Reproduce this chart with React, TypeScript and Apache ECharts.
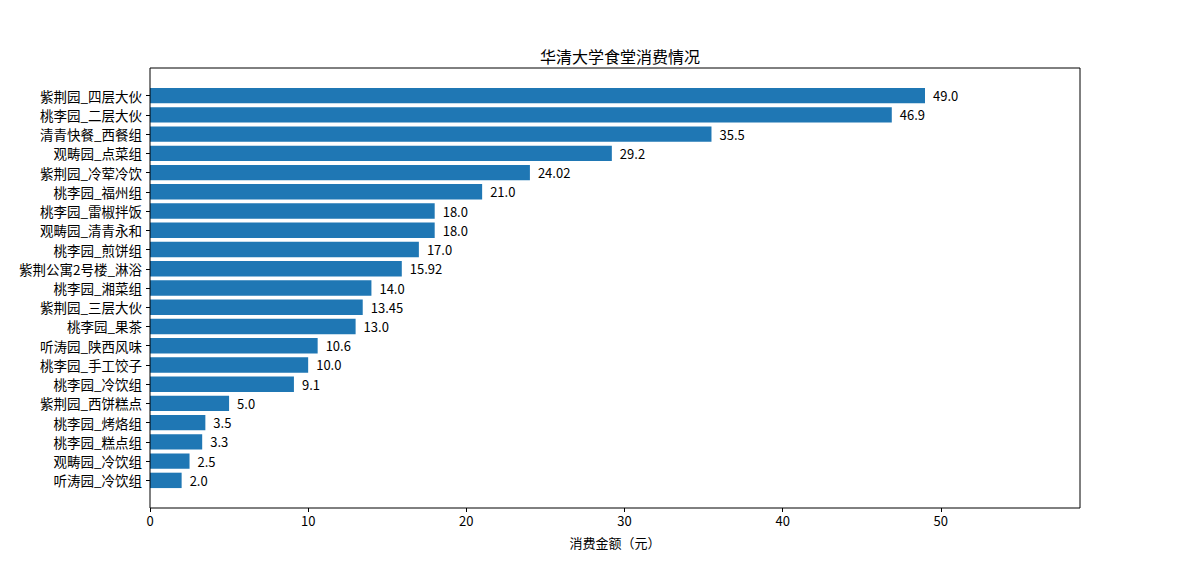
import React, { useEffect, useRef } from "react";
import * as echarts from "echarts";

const categories = [
  "听涛园_冷饮组",
  "观畴园_冷饮组",
  "桃李园_糕点组",
  "桃李园_烤烙组",
  "紫荆园_西饼糕点",
  "桃李园_冷饮组",
  "桃李园_手工饺子",
  "听涛园_陕西风味",
  "桃李园_果茶",
  "紫荆园_三层大伙",
  "桃李园_湘菜组",
  "紫荆公寓2号楼_淋浴",
  "桃李园_煎饼组",
  "观畴园_清青永和",
  "桃李园_雷椒拌饭",
  "桃李园_福州组",
  "紫荆园_冷荤冷饮",
  "观畴园_点菜组",
  "清青快餐_西餐组",
  "桃李园_二层大伙",
  "紫荆园_四层大伙",
];

const values = [
  2.0, 2.5, 3.3, 3.5, 5.0, 9.1, 10.0, 10.6, 13.0, 13.45, 14.0, 15.92, 17.0,
  18.0, 18.0, 21.0, 24.02, 29.2, 35.5, 46.9, 49.0,
];

const xTicks = [0, 10, 20, 30, 40, 50];

const FONT = "'Noto Sans CJK SC', 'DejaVu Sans', sans-serif";

export default function App() {
  const ref = useRef<HTMLDivElement>(null);
  useEffect(() => {
    if (!ref.current) return;
    const chart = echarts.init(ref.current, undefined, { renderer: "svg" });
    const maxV = Math.max(...values) * 1.2;
    chart.setOption({
      animation: false,
      backgroundColor: "#fff",
      textStyle: { fontFamily: FONT },
      title: {
        text: "华清大学食堂消费情况",
        left: 615,
        top: 43,
        textAlign: "center",
        textStyle: { fontFamily: FONT, fontSize: 16, fontWeight: "normal", color: "#000" },
      },
      grid: { left: 150, right: 120, top: 86, bottom: 82 },
      xAxis: {
        type: "value",
        min: 0,
        max: maxV,
        interval: 10,
        offset: 18,
        name: "消费金额（元）",
        nameLocation: "middle",
        nameGap: 28,
        nameTextStyle: { fontFamily: FONT, fontSize: 13, color: "#000" },
        axisLine: { show: false },
        axisTick: { show: true, length: 4, lineStyle: { color: "#000" } },
        splitLine: { show: false },
        axisLabel: {
          fontFamily: FONT,
          fontSize: 13,
          color: "#000",
          margin: 6,
          showMaxLabel: false,
          formatter: (v: number) => (xTicks.includes(v) ? String(v) : ""),
        },
      },
      yAxis: {
        type: "category",
        data: categories,
        axisLine: { show: false },
        axisTick: { show: true, length: 4, alignWithLabel: true, lineStyle: { color: "#000" } },
        axisLabel: { fontFamily: FONT, fontSize: 13.5, color: "#000", margin: 8 },
      },
      series: [
        {
          type: "bar",
          data: values,
          barCategoryGap: "20%",
          itemStyle: { color: "#1f77b4" },
          label: {
            show: true,
            position: "right",
            distance: 8,
            fontFamily: FONT,
            fontSize: 13,
            color: "#000",
            formatter: (p: any) =>
              Number.isInteger(p.value) ? p.value.toFixed(1) : String(p.value),
          },
        },
      ],
      graphic: [
        {
          type: "rect",
          silent: true,
          z: 100,
          shape: { x: 150, y: 68, width: 930, height: 440 },
          style: { fill: "none", stroke: "#000", lineWidth: 1 },
        },
      ],
    });
    return () => chart.dispose();
  }, []);
  return (
    <div
      ref={ref}
      style={{ position: "fixed", left: 0, top: 0, width: 1200, height: 572 }}
    />
  );
}
